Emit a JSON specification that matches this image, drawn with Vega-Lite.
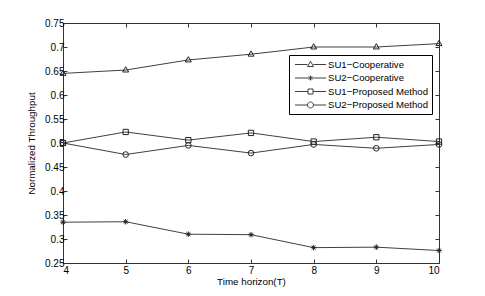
{
  "$schema": "https://vega.github.io/schema/vega-lite/v6.json",
  "width": 376,
  "height": 240,
  "autosize": "none",
  "padding": {"left": 63, "top": 23, "right": 46, "bottom": 33},
  "background": "white",
  "config": {
    "font": "Liberation Sans",
    "view": {"stroke": "#333", "strokeWidth": 1},
    "axis": {"grid": false, "domain": false, "tickColor": "#333", "tickSize": -4, "labelColor": "#000", "labelFontSize": 10, "labelFont": "Liberation Sans", "titleFont": "Liberation Sans", "titleFontSize": 9.8, "titleFontWeight": "normal", "titleColor": "#000"}
  },
  "data": {"values": [
    {"T": 4, "y": 0.645, "s": "SU1−Cooperative"},
    {"T": 5, "y": 0.652, "s": "SU1−Cooperative"},
    {"T": 6, "y": 0.673, "s": "SU1−Cooperative"},
    {"T": 7, "y": 0.685, "s": "SU1−Cooperative"},
    {"T": 8, "y": 0.700, "s": "SU1−Cooperative"},
    {"T": 9, "y": 0.700, "s": "SU1−Cooperative"},
    {"T": 10, "y": 0.707, "s": "SU1−Cooperative"},
    {"T": 4, "y": 0.335, "s": "SU2−Cooperative"},
    {"T": 5, "y": 0.336, "s": "SU2−Cooperative"},
    {"T": 6, "y": 0.310, "s": "SU2−Cooperative"},
    {"T": 7, "y": 0.309, "s": "SU2−Cooperative"},
    {"T": 8, "y": 0.282, "s": "SU2−Cooperative"},
    {"T": 9, "y": 0.283, "s": "SU2−Cooperative"},
    {"T": 10, "y": 0.276, "s": "SU2−Cooperative"},
    {"T": 4, "y": 0.500, "s": "SU1−Proposed Method"},
    {"T": 5, "y": 0.523, "s": "SU1−Proposed Method"},
    {"T": 6, "y": 0.506, "s": "SU1−Proposed Method"},
    {"T": 7, "y": 0.521, "s": "SU1−Proposed Method"},
    {"T": 8, "y": 0.503, "s": "SU1−Proposed Method"},
    {"T": 9, "y": 0.512, "s": "SU1−Proposed Method"},
    {"T": 10, "y": 0.503, "s": "SU1−Proposed Method"},
    {"T": 4, "y": 0.500, "s": "SU2−Proposed Method"},
    {"T": 5, "y": 0.476, "s": "SU2−Proposed Method"},
    {"T": 6, "y": 0.495, "s": "SU2−Proposed Method"},
    {"T": 7, "y": 0.479, "s": "SU2−Proposed Method"},
    {"T": 8, "y": 0.497, "s": "SU2−Proposed Method"},
    {"T": 9, "y": 0.489, "s": "SU2−Proposed Method"},
    {"T": 10, "y": 0.497, "s": "SU2−Proposed Method"}
  ]},
  "resolve": {"axis": {"x": "independent", "y": "independent"}},
  "layer": [
    {
      "mark": {"type": "line", "strokeWidth": 1},
      "encoding": {
        "x": {"field": "T", "type": "quantitative", "scale": {"domain": [4, 10], "nice": false, "zero": false},
              "axis": {"orient": "bottom", "values": [4, 5, 6, 7, 8, 9, 10], "title": "Time horizon(T)", "labelPadding": 6, "titlePadding": 1}},
        "y": {"field": "y", "type": "quantitative", "scale": {"domain": [0.25, 0.75], "nice": false, "zero": false},
              "axis": {"orient": "left", "values": [0.25, 0.3, 0.35, 0.4, 0.45, 0.5, 0.55, 0.6, 0.65, 0.7, 0.75], "format": "~g", "title": "Normalized Throughput", "labelPadding": 3, "titlePadding": 8}},
        "color": {"field": "s", "type": "nominal",
          "scale": {"domain": ["SU1−Cooperative", "SU2−Cooperative", "SU1−Proposed Method", "SU2−Proposed Method"], "range": ["#404040", "#404040", "#404040", "#404040"]},
          "legend": {
            "orient": "none", "legendX": 226, "legendY": 32, "title": null,
            "strokeColor": "#000", "fillColor": "#fff", "padding": 4,
            "symbolSize": 100, "rowPadding": 2.5,
            "labelFontSize": 9.6, "labelFont": "Liberation Sans", "labelColor": "#000", "labelOffset": 24,
            "symbolStrokeWidth": 1, "symbolFillColor": "transparent", "symbolStrokeColor": "#222",
            "encode": {"symbols": {"update": {
              "shape": {"signal": "indexof(datum.value,'Coop') > 0 ? (indexof(datum.value,'SU1') == 0 ? 'M-0.7,0L1.8,0M3,0L5.5,0M2.4,-0.65L3,0.4L1.8,0.4Z' : 'M-0.7,0L5.5,0M2.4,-0.5L2.4,0.5M2.05,-0.35L2.75,0.35M2.05,0.35L2.75,-0.35') : (indexof(datum.value,'SU1') == 0 ? 'M-0.7,0L1.9,0M2.9,0L5.5,0M1.9,-0.5L2.9,-0.5L2.9,0.5L1.9,0.5Z' : 'M-0.7,0L1.8,0M3,0L5.5,0M3,0A0.6,0.6 0 1,1 1.8,0A0.6,0.6 0 1,1 3,0')"},
              "fill": {"value": "transparent"},
              "stroke": {"value": "#222"},
              "strokeWidth": {"value": 1}
            }}}
          }
        }
      }
    },
    {
      "transform": [{"filter": "datum.s == 'SU1−Cooperative'"}],
      "mark": {"type": "point", "filled": false, "strokeWidth": 1, "color": "#222", "opacity": 1, "size": 36, "shape": "M0,-1.1L1,0.65L-1,0.65Z"},
      "encoding": {
        "x": {"field": "T", "type": "quantitative", "axis": {"orient": "top", "values": [4, 5, 6, 7, 8, 9, 10], "labels": false, "title": null}},
        "y": {"field": "y", "type": "quantitative", "axis": {"orient": "right", "values": [0.25, 0.3, 0.35, 0.4, 0.45, 0.5, 0.55, 0.6, 0.65, 0.7, 0.75], "labels": false, "title": null}}
      }
    },
    {
      "transform": [{"filter": "datum.s == 'SU2−Cooperative'"}],
      "mark": {"type": "point", "filled": false, "strokeWidth": 1, "color": "#222", "opacity": 1, "size": 30, "shape": "M-1,0L1,0M0,-1L0,1M-0.7,-0.7L0.7,0.7M-0.7,0.7L0.7,-0.7"},
      "encoding": {
        "x": {"field": "T", "type": "quantitative", "axis": null},
        "y": {"field": "y", "type": "quantitative", "axis": null}
      }
    },
    {
      "transform": [{"filter": "datum.s == 'SU1−Proposed Method'"}],
      "mark": {"type": "point", "filled": false, "strokeWidth": 1, "color": "#222", "opacity": 1, "size": 28, "shape": "square"},
      "encoding": {
        "x": {"field": "T", "type": "quantitative", "axis": null},
        "y": {"field": "y", "type": "quantitative", "axis": null}
      }
    },
    {
      "transform": [{"filter": "datum.s == 'SU2−Proposed Method'"}],
      "mark": {"type": "point", "filled": false, "strokeWidth": 1, "color": "#222", "opacity": 1, "size": 32, "shape": "circle"},
      "encoding": {
        "x": {"field": "T", "type": "quantitative", "axis": null},
        "y": {"field": "y", "type": "quantitative", "axis": null}
      }
    }
  ]
}
